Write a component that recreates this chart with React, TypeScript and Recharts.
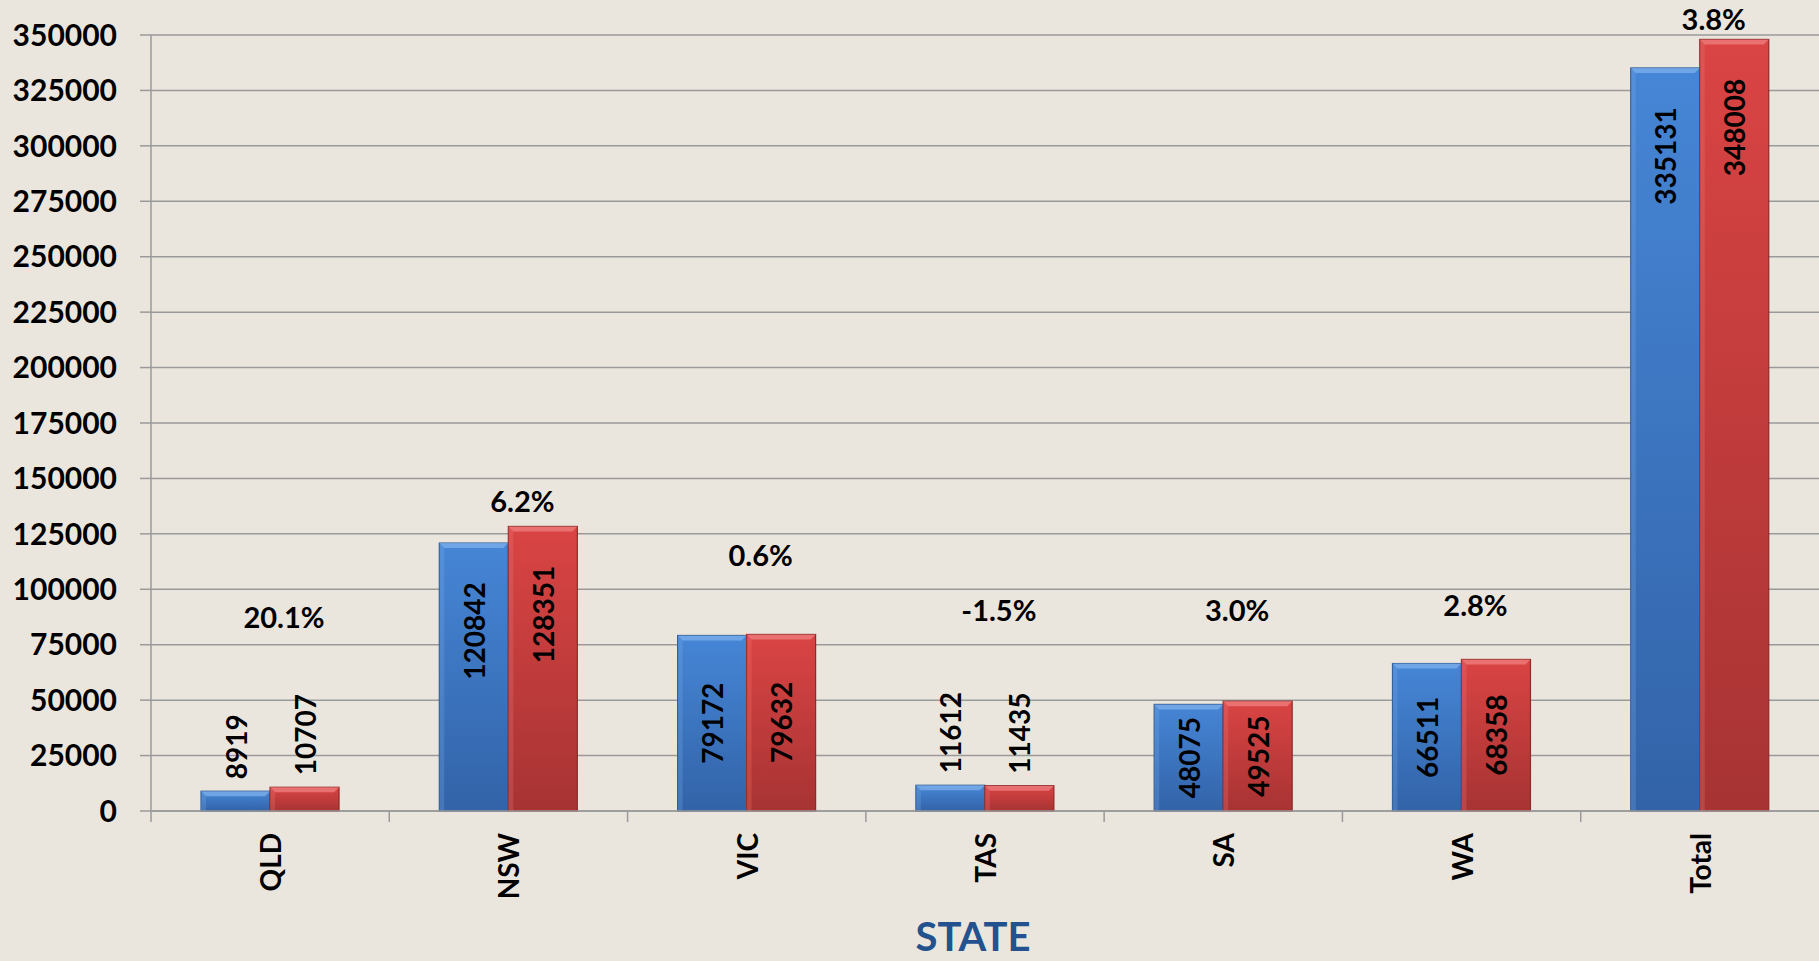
import { Bar, CartesianGrid, ComposedChart, LabelList, XAxis, YAxis } from "recharts";

/* ---------- data ---------- */
const categories = ["QLD", "NSW", "VIC", "TAS", "SA", "WA", "Total"];
const prevValues = [8919, 120842, 79172, 11612, 48075, 66511, 335131];
const currValues = [10707, 128351, 79632, 11435, 49525, 68358, 348008];
const pctLabels = ["20.1%", "6.2%", "0.6%", "-1.5%", "3.0%", "2.8%", "3.8%"];
// value (in axis units) where each % annotation sits
const pctLabelAt = [87900, 140200, 115600, 91000, 91000, 93100, 357300];
const yTicks = [0, 25000, 50000, 75000, 100000, 125000, 150000, 175000, 200000, 225000, 250000, 275000, 300000, 325000, 350000];

const data = categories.map((cat, i) => ({
  cat,
  prev: prevValues[i],
  curr: currValues[i],
}));

const FONT = "Lato, 'Open Sans', sans-serif";
const GRID = "#9a9a9a";

/* ---------- bevelled bar shape ---------- */
function makeBarShape(gradId: string, edge: string, light: string) {
  return (props: any) => {
    const { x, y, width, height } = props;
    if (!height || height <= 0) return <g />;
    const b = Math.min(5, height / 3);
    return (
      <g>
        <rect x={x} y={y} width={width} height={height} fill={`url(#${gradId})`} stroke={edge} strokeWidth={1.2} />
        <polygon
          points={`${x},${y} ${x + width},${y} ${x + width - b},${y + b} ${x + b},${y + b}`}
          fill={light}
          opacity={0.75}
        />
        <polygon
          points={`${x},${y} ${x + b},${y + b} ${x + b},${y + height} ${x},${y + height}`}
          fill={light}
          opacity={0.25}
        />
      </g>
    );
  };
}

/* ---------- rotated value label ---------- */
function ValueLabel(props: any) {
  const { x, y, width, height, value } = props;
  const fs = 28;
  const txt = String(value);
  const len = txt.length * fs * 0.58;
  const cx = x + width / 2;
  if (height < len + 20) {
    const by = y - 12;
    return (
      <text
        x={cx}
        y={by}
        transform={`rotate(-90, ${cx}, ${by})`}
        textAnchor="start"
        dominantBaseline="central"
        fontFamily={FONT}
        fontWeight={700}
        fontSize={fs}
        fill="#000"
      >
        {txt}
      </text>
    );
  }
  const cy = Math.min(y + height / 2, y + 88);
  return (
    <text
      x={cx}
      y={cy}
      transform={`rotate(-90, ${cx}, ${cy})`}
      textAnchor="middle"
      dominantBaseline="central"
      fontFamily={FONT}
      fontWeight={700}
      fontSize={fs}
      fill="#000"
    >
      {txt}
    </text>
  );
}

/* ---------- % change annotation, placed through the bar's own scale ---------- */
function PctLabel(props: any) {
  const { x, y, height, value } = props;
  const i = categories.indexOf(value);
  if (i < 0) return null;
  const base = y + height;
  const perUnit = height / currValues[i];
  const ly = base - pctLabelAt[i] * perUnit;
  return (
    <text
      x={x + 14}
      y={ly}
      textAnchor="middle"
      dominantBaseline="central"
      fontFamily={FONT}
      fontWeight={700}
      fontSize={29}
      fill="#000"
    >
      {pctLabels[i]}
    </text>
  );
}

/* ---------- category tick with boundary marks ---------- */
function CategoryTick(props: any) {
  const { x, y, payload, width, visibleTicksCount } = props;
  const bw = width / (visibleTicksCount || categories.length);
  const lx = x - bw / 2;
  const ty = y + 22;
  return (
    <g>
      <line x1={lx} y1={y} x2={lx} y2={y + 11} stroke={GRID} strokeWidth={1.5} />
      <text
        x={x}
        y={ty}
        transform={`rotate(-90, ${x}, ${ty})`}
        textAnchor="end"
        dominantBaseline="central"
        fontFamily={FONT}
        fontWeight={700}
        fontSize={28}
        fill="#000"
      >
        {payload.value}
      </text>
    </g>
  );
}

function StateLabel(props: any) {
  const { viewBox } = props;
  if (!viewBox) return null;
  return (
    <text
      x={viewBox.x + viewBox.width / 2 - 12}
      y={viewBox.y + viewBox.height - 25}
      textAnchor="middle"
      dominantBaseline="central"
      fontFamily={FONT}
      fontWeight={700}
      fontSize={40}
      fill="#24528e"
    >
      STATE
    </text>
  );
}

export default function App() {
  return (
    <div style={{ width: 1819, height: 961, background: "#ebe6dd" }}>
      <style>{`body{margin:0}`}</style>
      <ComposedChart
        width={1819}
        height={961}
        data={data}
        margin={{ top: 35, right: 0, left: 0, bottom: 0 }}
        barCategoryGap="21%"
        barGap={0}
      >
        <defs>
          <linearGradient id="blueGrad" x1="0" y1="0" x2="0" y2="1">
            <stop offset="0%" stopColor="#4686d6" />
            <stop offset="100%" stopColor="#3263a8" />
          </linearGradient>
          <linearGradient id="redGrad" x1="0" y1="0" x2="0" y2="1">
            <stop offset="0%" stopColor="#da4444" />
            <stop offset="100%" stopColor="#a73333" />
          </linearGradient>
        </defs>
        <CartesianGrid stroke={GRID} strokeWidth={1.5} vertical={false} />
        <XAxis
          dataKey="cat"
          height={150}
          axisLine={{ stroke: GRID, strokeWidth: 1.5 }}
          tickLine={false}
          tickSize={0}
          tickMargin={0}
          interval={0}
          tick={<CategoryTick />}
          label={<StateLabel />}
        />
        <YAxis
          width={151}
          domain={[0, 350000]}
          ticks={yTicks}
          interval={0}
          axisLine={{ stroke: GRID, strokeWidth: 1.5 }}
          tickLine={{ stroke: GRID, strokeWidth: 1.5 }}
          tickSize={11}
          tickMargin={23}
          tick={{ fill: "#000", fontSize: 30, fontWeight: 700, fontFamily: FONT }}
        />
        <Bar
          dataKey="prev"
          isAnimationActive={false}
          shape={makeBarShape("blueGrad", "#2c5891", "#7fb0ec")}
        >
          <LabelList dataKey="prev" content={<ValueLabel />} />
        </Bar>
        <Bar
          dataKey="curr"
          isAnimationActive={false}
          shape={makeBarShape("redGrad", "#8f2a2a", "#f08080")}
        >
          <LabelList dataKey="curr" content={<ValueLabel />} />
          <LabelList dataKey="cat" content={<PctLabel />} />
        </Bar>
      </ComposedChart>
    </div>
  );
}
